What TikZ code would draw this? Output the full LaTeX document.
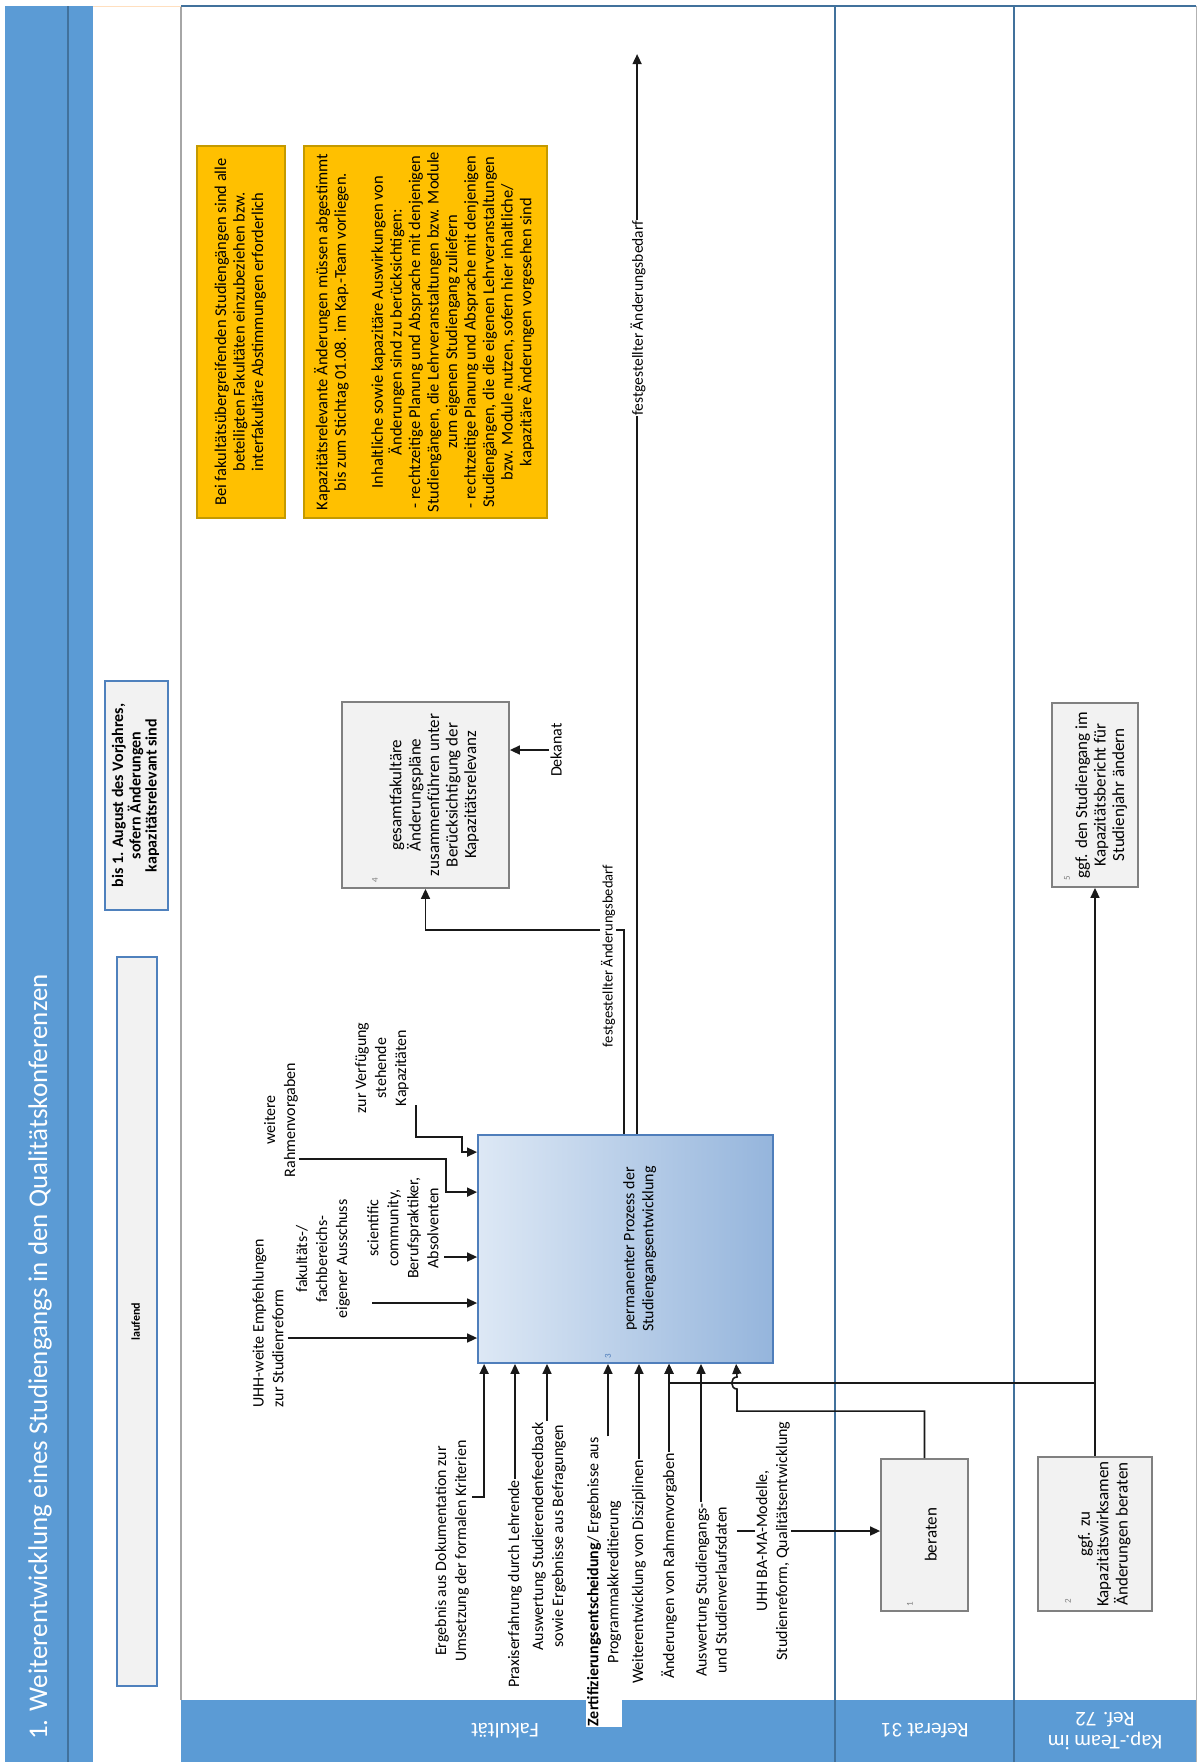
\documentclass[tikz,border=0pt]{standalone}
\usepackage{fontspec}
\setmainfont{Carlito}
\usetikzlibrary{arrows.meta}
\definecolor{band}{HTML}{5B9BD5}
\definecolor{bandline}{HTML}{41719C}
\definecolor{note}{HTML}{FFC000}
\definecolor{notebd}{HTML}{C49A00}
\definecolor{boxfill}{HTML}{F2F2F2}
\definecolor{boxbd}{HTML}{808080}
\definecolor{tbd}{HTML}{4F81BD}
\definecolor{mainL}{HTML}{DDE8F5}
\definecolor{mainR}{HTML}{95B5DC}
\definecolor{mainbd}{HTML}{4F7EBB}
\newcommand{\vtab}[1]{\rotatebox{90}{\begin{tabular}{@{}c@{}}#1\end{tabular}}}
\begin{document}
\begin{tikzpicture}[x=1pt, y=-1pt,
  conn/.style={line width=1.6pt, draw=black!90},
  arr/.style={conn, -{Triangle[length=10pt,width=9pt]}},
  lbl/.style={rotate=90, align=center, inner sep=1pt, font=\fontsize{16}{20}\selectfont},
  smalllbl/.style={lbl, font=\fontsize{14.5}{17}\selectfont},
  procbox/.style={draw=boxbd, fill=boxfill, line width=1.8pt, inner sep=0pt, font=\fontsize{17}{18.5}\selectfont},
  notebox/.style={draw=notebd, fill=note, line width=1.5pt, inner sep=0pt, font=\fontsize{16.5}{18.5}\selectfont},
  timebox/.style={draw=tbd, fill=boxfill, line width=1.5pt, inner sep=0pt, font=\fontsize{16}{15.5}\selectfont\bfseries},
  lane/.style={rotate=180, text=white, align=center, font=\fontsize{21}{23}\selectfont},
  num/.style={rotate=90, inner sep=0pt, font=\fontsize{9}{10}\selectfont, text=gray}
]
\useasboundingbox (0,0) rectangle (1198,1762);
\fill[white] (0,0) rectangle (1198,1762);
% frame
\fill[band] (5,6) rectangle (93,1762);
\draw[bandline, line width=1.2pt] (68,6) -- (68,1762);
\fill[band] (181,1700) rectangle (1196,1762);
\draw[black!35, line width=1.5pt] (181,6) -- (181,1700);
\draw[bandline, line width=2pt] (181,6) -- (1196,6);
\draw[orange!25, line width=1pt] (93,6) -- (181,6);
\draw[bandline, line width=1.8pt] (835,6) -- (835,1762);
\draw[bandline, line width=1.8pt] (1014,6) -- (1014,1762);
\draw[black!30, line width=1pt] (1196,6) -- (1196,1762);

% title and lanes
\node[rotate=90, text=white, font=\fontsize{27}{30}\selectfont] (title) at (40,1357) {1. Weiterentwicklung eines Studiengangs in den Qualitätskonferenzen};
\node[lane] (lfak) at (505,1731) {Fakultät};
\node[lane] (lref) at (925,1731) {Referat 31};
\node[lane] (lkap) at (1105,1731) {Kap.-Team im\\Ref. 72};

% time boxes
\node[timebox, minimum width=63pt, minimum height=229pt] (tb) at (136.5,795.5) {\vtab{bis 1. August des Vorjahres,\\sofern Änderungen\\kapazitätsrelevant sind}};
\node[timebox, minimum width=40pt, minimum height=729pt, font=\fontsize{12}{14}\selectfont\bfseries] (tl) at (137,1321.5) {\vtab{laufend}};

% notes
\node[notebox, minimum width=88pt, minimum height=372pt] (na) at (241,332) {\vtab{Bei fakultätsübergreifenden Studiengängen sind alle\\beteiligten Fakultäten einzubeziehen bzw.\\interfakultäre Abstimmungen erforderlich}};
\node[notebox, minimum width=243pt, minimum height=372pt] (nb) at (425.5,332) {\vtab{Kapazitätsrelevante Änderungen müssen abgestimmt\\bis zum Stichtag 01.08. im Kap.-Team vorliegen.\\ \\Inhaltliche sowie kapazitäre Auswirkungen von\\Änderungen sind zu berücksichtigen:\\- rechtzeitige Planung und Absprache mit denjenigen\\Studiengängen, die Lehrveranstaltungen bzw. Module\\zum eigenen Studiengang zuliefern\\- rechtzeitige Planung und Absprache mit denjenigen\\Studiengängen, die die eigenen Lehrveranstaltungen\\bzw. Module nutzen, sofern hier inhaltliche/\\kapazitäre Änderungen vorgesehen sind}};

% process boxes
\node[procbox, minimum width=167pt, minimum height=186pt] (b4) at (425.5,795) {\hspace*{19pt}\vtab{gesamtfakultäre\\Änderungspläne\\zusammenführen unter\\Berücksichtigung der\\Kapazitätsrelevanz}};
\node[procbox, minimum width=86pt, minimum height=184pt] (b5) at (1095,795) {\hspace*{14pt}\vtab{ggf. den Studiengang im\\Kapazitätsbericht für\\Studienjahr ändern}};
\node[draw=mainbd, line width=1.8pt, left color=mainL, right color=mainR, minimum width=295pt, minimum height=228pt, inner sep=0pt, font=\fontsize{16}{19}\selectfont] (b3) at (625.5,1249) {\hspace*{29pt}\vtab{permanenter Prozess der\\Studiengangsentwicklung}};
\node[procbox, minimum width=87pt, minimum height=152pt] (b1) at (924.5,1535) {\hspace*{17pt}\vtab{beraten}};
\node[procbox, minimum width=114pt, minimum height=154pt] (b2) at (1095,1534) {\hspace*{20pt}\vtab{ggf. zu\\Kapazitätswirksamen\\Änderungen beraten}};

% small numbers
\node[num] (n4) at (375,880) {4};
\node[num, text=mainbd] (n3) at (608,1356) {3};
\node[num] (n1) at (910,1604) {1};
\node[num] (n2) at (1068,1601) {2};
\node[num] (n5) at (1067,878) {5};

% labels left of main box
\node[lbl] (lz) at (382,1068) {zur Verfügung\\stehende\\Kapazitäten};
\node[lbl] (lw) at (281,1120) {weitere\\Rahmenvorgaben};
\node[lbl] (lf) at (323,1259) {fakultäts-/\\fachbereichs-\\eigener Ausschuss};
\node[lbl] (ls) at (403,1228) {scientific\\community,\\Berufspraktiker,\\Absolventen};
\node[lbl, align=left] (lu) at (268,1323) {UHH-weite Empfehlungen\\zur Studienreform};

% labels below main box
\node[lbl] (l1) at (452,1551) {Ergebnis aus Dokumentation zur\\Umsetzung der formalen Kriterien};
\node[lbl] (l2) at (515,1584) {Praxiserfahrung durch Lehrende};
\node[lbl] (l3) at (549,1536) {Auswertung Studierendenfeedback\\sowie Ergebnisse aus Befragungen};
\node[lbl, fill=white] (l4) at (604,1582) {\textbf{Zertifizierungsentscheidung}/ Ergebnisse aus\\Programmakkreditierung};
\node[lbl] (l5) at (639,1572) {Weiterentwicklung von Disziplinen};
\node[lbl] (l6) at (669,1566) {Änderungen von Rahmenvorgaben};
\node[lbl] (l7) at (711,1590) {Auswertung Studiengangs-\\und Studienverlaufsdaten};
\node[lbl] (dek) at (556,750) {Dekanat};

% free ends
\coordinate (s1) at (416,1105);
\coordinate (s2) at (299,1159);
\coordinate (s3) at (444,1257);
\coordinate (s4) at (372,1303);
\coordinate (s5) at (288,1338);
\coordinate (t1) at (472,1497);
\coordinate (u1) at (737,1531);
\coordinate (j2) at (1095,1383);

% inputs from left
\draw[arr] (s1) -- (416,1137) -- (462,1137) |- ([yshift=-18pt]b3.north west);
\draw[arr] (s2) -- (446,1159) |- ([yshift=-58pt]b3.north west);
\draw[arr] (s3) -- (s3 -| b3.west);
\draw[arr] (s4) -- (s4 -| b3.west);
\draw[arr] (s5) -- (s5 -| b3.west);

% inputs from below
\draw[arr] (t1) -| ([xshift=7pt]b3.south west);
\draw[arr] (l2.east) -- (l2.east |- b3.south);
\draw[arr] ([xshift=-2pt]l3.east) coordinate (t3) -- (t3 |- b3.south);
\draw[arr] ([xshift=4pt]l4.east) coordinate (t4) -- (t4 |- b3.south);
\draw[arr] (l5.east) -- (l5.east |- b3.south);
\draw[arr] (l6.east) -- (l6.east |- b3.south);
\draw[arr] ([xshift=-10pt]l7.east) coordinate (t7) -- (t7 |- b3.south);

% beraten -> main box (with jump)
\draw[arr] (b1.north) -- ++(0,-47) -| (737,1389) .. controls (730,1389) and (730,1377) .. (737,1377) -- ([xshift=259pt]b3.south west);
% Kap.-Team box 2 -> box 5 and main box
\draw[arr] (b2.north) -- (b2.north |- b5.south);
\draw[arr] (j2) -| ([xshift=192pt]b3.south west);
% UHH BA-MA -> beraten
\draw[arr] (u1) -- (u1 -| b1.west);
\node[lbl, fill=white] (l8) at (773,1541) {UHH BA-MA-Modelle,\\Studienreform, Qualitätsentwicklung};

% Dekanat
\draw[arr] (dek.north) -- (dek.north -| b4.east);

% outputs
\draw[arr] ([xshift=147pt]b3.north west) -- ++(0,-204) -| (b4.south);
\draw[arr] ([xshift=160pt]b3.north west) -- ++(0,-1080);
\node[smalllbl, fill=white] (lfa) at (608,956) {festgestellter Änderungsbedarf};
\node[smalllbl, fill=white, font=\fontsize{15.5}{18}\selectfont] (lfb) at (638,318) {festgestellter Änderungsbedarf};
\end{tikzpicture}
\end{document}
